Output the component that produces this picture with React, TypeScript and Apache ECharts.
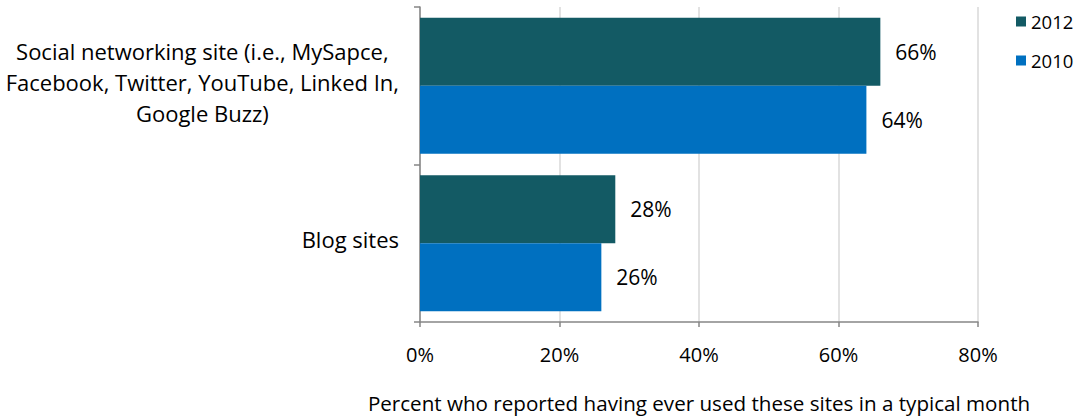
import React, { useEffect, useRef } from "react";
import * as echarts from "echarts";

const categories = [
  "Social networking site (i.e., MySapce,\nFacebook, Twitter, YouTube, Linked In,\nGoogle Buzz)",
  "Blog sites",
];
const series2012 = [66, 28];
const series2010 = [64, 26];
const seriesNames = ["2012", "2010"];
const xTicks = { min: 0, max: 80, interval: 20 };
const xAxisTitle = "Percent who reported having ever used these sites in a typical month";

const FONT = "'Open Sans', sans-serif";

export default function App() {
  const ref = useRef<HTMLDivElement>(null);
  useEffect(() => {
    if (!ref.current) return;
    const chart = echarts.init(ref.current, null, { renderer: "svg" });
    const labelStyle = {
      show: true,
      position: "right",
      distance: 15,
      formatter: "{c}%",
      color: "#000",
      fontSize: 21,
      fontFamily: FONT,
    };
    chart.setOption({
      animation: false,
      textStyle: { fontFamily: FONT },
      grid: { left: 420, right: 103, top: 7, bottom: 97, containLabel: false },
      legend: {
        orient: "vertical",
        left: 1011,
        top: 7,
        itemWidth: 10,
        itemHeight: 10,
        itemGap: 20,
        icon: "rect",
        textStyle: { fontSize: 18.5, color: "#000", fontFamily: FONT },
        data: seriesNames,
      },
      xAxis: {
        type: "value",
        min: xTicks.min,
        max: xTicks.max,
        interval: xTicks.interval,
        axisLine: { show: true, lineStyle: { color: "#868686", width: 1.5 } },
        axisTick: { show: true, length: 5, lineStyle: { color: "#868686", width: 1.5 } },
        splitLine: { show: true, lineStyle: { color: "#d9d9d9", width: 1.5 } },
        axisLabel: {
          formatter: "{value}%",
          color: "#000",
          fontSize: 20,
          fontFamily: FONT,
          margin: 22,
        },
        name: xAxisTitle,
        nameLocation: "middle",
        nameGap: 70,
        nameTextStyle: { color: "#000", fontSize: 20.6, fontFamily: FONT },
      },
      yAxis: {
        type: "category",
        inverse: true,
        data: categories,
        axisLine: { show: true, lineStyle: { color: "#868686", width: 1.5 } },
        axisTick: { show: true, length: 6, lineStyle: { color: "#868686", width: 1.5 } },
        axisLabel: {
          color: "#000",
          fontSize: 22,
          fontFamily: FONT,
          margin: 21,
          lineHeight: 31,
          align: "right",
          padding: [0, 0, 8, 0],
          formatter: (v: string) =>
            v
              .split("\n")
              .map((l) => `{a|${l}}`)
              .join("\n"),
          rich: {
            a: { align: "center", fontSize: 22, fontFamily: FONT, color: "#000", lineHeight: 31 },
          },
        },
      },
      series: [
        {
          name: seriesNames[0],
          type: "bar",
          data: series2012,
          barGap: "0%",
          barCategoryGap: "13.6%",
          itemStyle: { color: "#135a64" },
          label: labelStyle,
        },
        {
          name: seriesNames[1],
          type: "bar",
          data: series2010,
          barGap: "0%",
          barCategoryGap: "13.6%",
          itemStyle: { color: "#0070c0" },
          label: labelStyle,
        },
      ],
    });
    return () => chart.dispose();
  }, []);
  return (
    <div
      ref={ref}
      style={{ position: "absolute", left: 0, top: 0, width: 1081, height: 419, background: "#fff" }}
    />
  );
}
